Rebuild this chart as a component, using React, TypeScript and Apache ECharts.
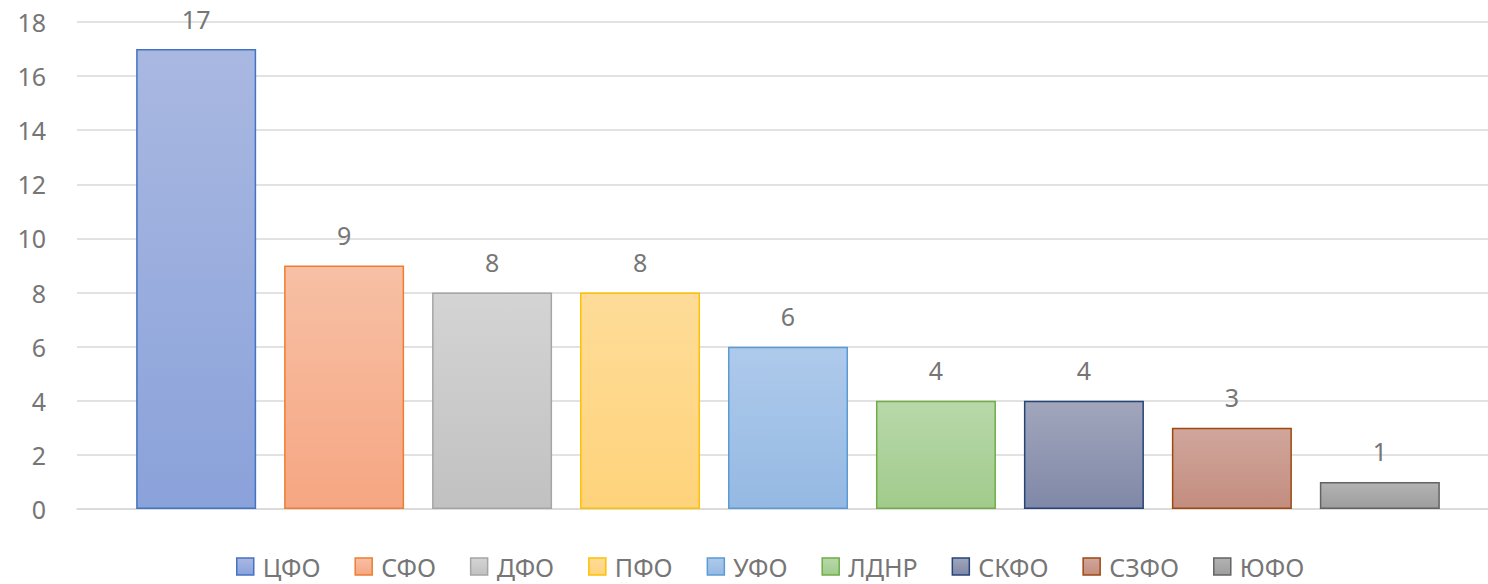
import React, { useEffect, useRef } from "react";
import * as echarts from "echarts";

const regions = ["ЦФО", "СФО", "ДФО", "ПФО", "УФО", "ЛДНР", "СКФО", "СЗФО", "ЮФО"];
const counts = [17, 9, 8, 8, 6, 4, 4, 3, 1];
const yTicks = { min: 0, max: 18, interval: 2 };
const topColors = ["#A9B8E1", "#F7C0A5", "#D4D4D4", "#FEDC98", "#AECAEB", "#B8D8A9", "#A1A6BB", "#D1A69C", "#B3B3B3"];
const bottomColors = ["#8AA2DA", "#F6A682", "#C1C1C1", "#FFD37B", "#95B9E3", "#A1CB8C", "#7F88A7", "#C38D7F", "#9D9D9D"];
const borderColors = ["#4472C4", "#ED7D31", "#A5A5A5", "#FFC000", "#5B9BD5", "#70AD47", "#264478", "#9E480E", "#636363"];

const FONT = "'Noto Sans', 'Open Sans', sans-serif";
const TEXT = "#767676";

export default function App() {
  const ref = useRef<HTMLDivElement>(null);
  useEffect(() => {
    if (!ref.current) return;
    const chart = echarts.init(ref.current, null, { renderer: "svg" });
    const series = regions.map((name, i) => ({
      name,
      type: "bar",
      data: [counts[i]],
      barWidth: 120,
      barGap: "23.3%",
      itemStyle: {
        color: new echarts.graphic.LinearGradient(0, 0, 0, 1, [
          { offset: 0, color: topColors[i] },
          { offset: 1, color: bottomColors[i] },
        ]),
        borderColor: borderColors[i],
        borderWidth: 1.5,
      },
      label: {
        show: true,
        position: "top",
        distance: 18,
        color: TEXT,
        fontSize: 25,
        fontFamily: FONT,
      },
    }));
    chart.setOption({
      animation: false,
      backgroundColor: "#ffffff",
      grid: { left: 77, top: 22, right: 0, height: 487, containLabel: false },
      legend: {
        data: regions.map((name, i) => ({
          name,
          itemStyle: {
            color: new echarts.graphic.LinearGradient(0, 0, 0, 1, [
              { offset: 0, color: topColors[i] },
              { offset: 1, color: bottomColors[i] },
            ]),
            borderColor: borderColors[i],
            borderWidth: 1.5,
          },
        })),
        left: 236,
        top: 554,
        padding: 0,
        icon: "rect",
        itemWidth: 17,
        itemHeight: 17,
        itemGap: 34,
        textStyle: {
          color: TEXT,
          fontSize: 25,
          lineHeight: 25,
          fontFamily: FONT,
          padding: [0, 0, 0, 4],
        },
      },
      xAxis: {
        type: "category",
        data: [""],
        axisLine: { show: true, lineStyle: { color: "#D9D9D9", width: 1.5 } },
        axisTick: { show: false },
        axisLabel: { show: false },
      },
      yAxis: {
        type: "value",
        min: yTicks.min,
        max: yTicks.max,
        interval: yTicks.interval,
        axisLine: { show: false },
        axisTick: { show: false },
        splitLine: { lineStyle: { color: "#D9D9D9", width: 1.5 } },
        axisLabel: { color: TEXT, fontSize: 25, fontFamily: FONT, margin: 31 },
      },
      series,
    });
    return () => chart.dispose();
  }, []);
  return (
    <div
      ref={ref}
      style={{ position: "fixed", left: 0, top: 0, width: 1499, height: 584 }}
    />
  );
}
